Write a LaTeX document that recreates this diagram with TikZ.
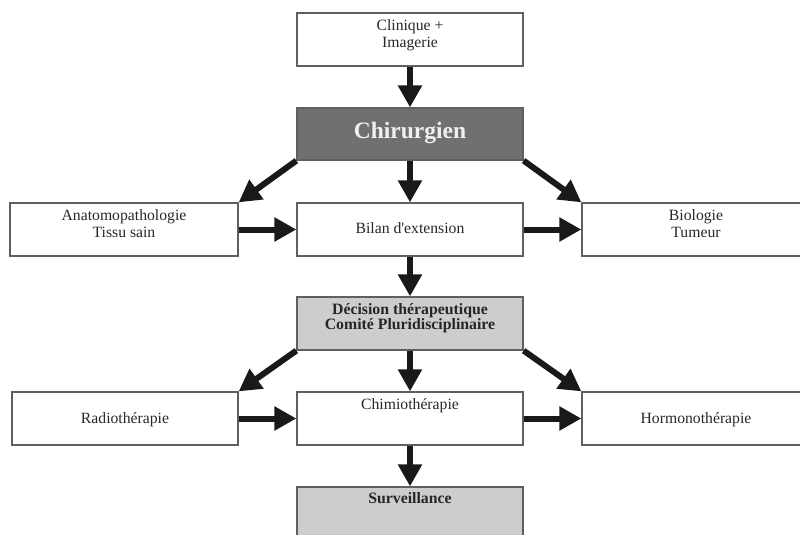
\documentclass[tikz,border=0pt]{standalone}
\usepackage{fontspec}
\setmainfont{Liberation Serif}
\usetikzlibrary{arrows.meta}
\definecolor{bordergray}{RGB}{95,95,95}
\definecolor{darkfill}{RGB}{112,112,112}
\definecolor{lightfill}{RGB}{205,205,205}
\definecolor{txt}{RGB}{40,40,40}
\definecolor{lighttxt}{RGB}{240,240,240}
\begin{document}
\begin{tikzpicture}[x=1pt,y=-1pt,
  box/.style={draw=bordergray, line width=1.3pt, fill=white, minimum width=226pt, minimum height=53pt, inner sep=0pt},
  widebox/.style={box, minimum width=228pt},
  lbl/.style={font=\fontsize{15.7}{17}\selectfont, text=txt, align=center, inner sep=0pt},
  blbl/.style={lbl, font=\fontsize{15.8}{15.5}\selectfont\bfseries, text=black!85},
  arr/.style={line width=6pt, -{Triangle[length=22pt,width=23pt]}, black!90}]
\useasboundingbox (0,0) rectangle (800,535);
\clip (0,0) rectangle (800,535);
% boxes
\node[box] (clin) at (410,39.5) {};
\node[box, fill=darkfill, minimum height=52pt] (chir) at (410,134) {};
\node[widebox] (anat) at (124,229.5) {};
\node[box] (bilan) at (410,229.5) {};
\node[widebox] (bio) at (696,229.5) {};
\node[box, fill=lightfill] (dec) at (410,323.5) {};
\node[box] (radio) at (125,418.5) {};
\node[box] (chimio) at (410,418.5) {};
\node[widebox] (hormo) at (696,418.5) {};
\node[box, fill=lightfill] (surv) at (410,513.5) {};
% labels
\node[lbl] (clin-t) at (410,35) {Clinique +\\Imagerie};
\node[lbl, anchor=base, font=\fontsize{23.5}{25}\selectfont\bfseries, text=lighttxt] (chir-t) at (410,138) {Chirurgien};
\node[lbl] (anat-t) at (124,224) {Anatomopathologie\\Tissu sain};
\node[lbl, anchor=base] (bilan-t) at (410,233) {Bilan d\textquotesingle extension};
\node[lbl] (bio-t) at (696,224) {Biologie\\Tumeur};
\node[blbl] (dec-t) at (410,318) {Décision thérapeutique\\Comité Pluridisciplinaire};
\node[lbl, anchor=base] (radio-t) at (125,423) {Radiothérapie};
\node[lbl, anchor=base] (chimio-t) at (410,409) {Chimiothérapie};
\node[lbl, anchor=base] (hormo-t) at (696,423) {Hormonothérapie};
\node[blbl, anchor=base] (surv-t) at (410,503) {Surveillance};
% arrows
\draw[arr] (clin.south) -- (chir.north);
\draw[arr] (chir.south west) -- (anat.north east);
\draw[arr] (chir.south) -- (bilan.north);
\draw[arr] (chir.south east) -- (bio.north west);
\draw[arr] (anat.east) -- (bilan.west);
\draw[arr] (bilan.east) -- (bio.west);
\draw[arr] (bilan.south) -- (dec.north);
\draw[arr] (dec.south west) -- (radio.north east);
\draw[arr] (dec.south) -- (chimio.north);
\draw[arr] (dec.south east) -- (hormo.north west);
\draw[arr] (radio.east) -- (chimio.west);
\draw[arr] (chimio.east) -- (hormo.west);
\draw[arr] (chimio.south) -- (surv.north);
\end{tikzpicture}
\end{document}
